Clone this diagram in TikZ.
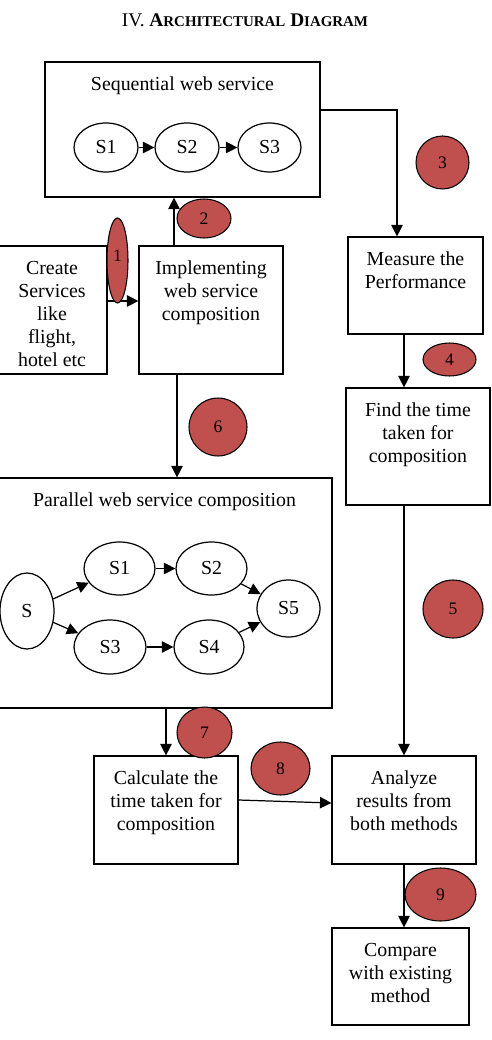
\documentclass[tikz,border=0pt]{standalone}
\usepackage{fontspec}
\setmainfont{Liberation Serif}
\usetikzlibrary{arrows.meta,positioning,shapes.geometric,calc}
\definecolor{badgered}{RGB}{192,80,77}

\begin{document}
\begin{tikzpicture}[
    x=0.02cm, y=-0.02cm,
    >={Triangle[length=6.5pt,width=6.5pt]},
    block/.style={rectangle, draw, line width=0.7pt},
    inside/.style={anchor=north, yshift=-0.19cm, align=center, font=\fontsize{11.3}{13.1}\selectfont},
    svc/.style={ellipse, draw, line width=0.7pt, inner sep=0pt, font=\fontsize{11.3}{13.1}\selectfont},
    badge/.style={ellipse, draw, line width=0.6pt, fill=badgered, inner sep=0pt, font=\fontsize{10}{12}\selectfont},
    link/.style={->, line width=0.7pt}
]
    \useasboundingbox (0,0) rectangle (491,1040);

    % Title
    \node[font=\fontsize{11}{13}\selectfont] (title) at (245,20) {IV. \textbf{A{\fontsize{8.5}{10}\selectfont RCHITECTURAL} D{\fontsize{8.5}{10}\selectfont IAGRAM}}};

    % Blocks
    \node[block, minimum width=5.5cm, minimum height=2.7cm, label={[inside]north:Sequential web service}] (seq) at (182.5,129.5) {};
    \node[block, minimum width=2.2cm, minimum height=2.56cm, label={[inside]north:{Create\\Services\\like\\flight,\\hotel etc}}] (create) at (52,310) {};
    \node[block, minimum width=2.88cm, minimum height=2.56cm, label={[inside]north:{Implementing\\web service\\composition}}] (impl) at (211,310) {};
    \node[block, minimum width=2.7cm, minimum height=1.94cm, label={[inside]north:{Measure the\\Performance}}] (measure) at (415.5,285.5) {};
    \node[block, minimum width=2.88cm, minimum height=2.34cm, label={[inside]north:{Find the time\\taken for\\composition}}] (find) at (418,446.5) {};
    \node[block, minimum width=6.7cm, minimum height=4.6cm, label={[inside]north:Parallel web service composition}] (par) at (164.5,593) {};
    \node[block, minimum width=2.88cm, minimum height=2.16cm, label={[inside]north:{Calculate the\\time taken for\\composition}}] (calc) at (166,810) {};
    \node[block, minimum width=2.88cm, minimum height=2.16cm, label={[inside]north:{Analyze\\results from\\both methods}}] (analyze) at (404,810) {};
    \node[block, minimum width=2.74cm, minimum height=1.94cm, label={[inside]north:{Compare\\with existing\\method}}] (compare) at (400.5,976.5) {};

    % Sequential services
    \node[svc, minimum width=1.28cm, minimum height=0.98cm] (q1) at (106,147.5) {S1};
    \node[svc, minimum width=1.28cm, minimum height=0.98cm] (q2) at (187,147.5) {S2};
    \node[svc, minimum width=1.26cm, minimum height=0.98cm] (q3) at (269.5,147.5) {S3};

    % Parallel services
    \node[svc, minimum width=1.08cm, minimum height=1.52cm] (p0) at (27,611) {S};
    \node[svc, minimum width=1.42cm, minimum height=1.06cm] (p1) at (119.5,568.5) {S1};
    \node[svc, minimum width=1.42cm, minimum height=1.06cm] (p2) at (211.5,568.5) {S2};
    \node[svc, minimum width=1.44cm, minimum height=1.08cm] (p3) at (110,647) {S3};
    \node[svc, minimum width=1.4cm, minimum height=1.08cm] (p4) at (209,647) {S4};
    \node[svc, minimum width=1.26cm, minimum height=1.14cm] (p5) at (288.5,608.5) {S5};

    % Arrows
    \draw[link] (q1) -- (q2);
    \draw[link] (q2) -- (q3);
    \draw[link] (p0) -- (p1);
    \draw[link] (p0) -- (p3);
    \draw[link] (p1) -- (p2);
    \draw[link] (p3) -- (p4);
    \draw[link] (p2) -- (p5);
    \draw[link] (p4) -- (p5);

    \draw[link] ([yshift=0.18cm]create.east) -- ([yshift=0.18cm]create.east -| impl.west);
    \draw[link] ([xshift=-0.74cm]impl.north) -- ([xshift=-0.74cm]impl.north |- seq.south);
    \draw[link] ([yshift=0.39cm]seq.east) -| ([xshift=-0.37cm]measure.north);
    \draw[link] ([xshift=-0.23cm]measure.south) -- ([xshift=-0.23cm]measure.south |- find.north);
    \draw[link] (analyze.north |- find.south) -- (analyze.north);
    \draw[link] ([xshift=-0.68cm]impl.south) -- ([xshift=-0.68cm]impl.south |- par.north);
    \draw[link] (calc.north |- par.south) -- (calc.north);
    \draw[link] ([yshift=0.2cm]calc.east) -- ([yshift=0.14cm]analyze.west);
    \draw[link] (analyze.south) -- (analyze.south |- compare.north);

    % Step numbers
    \node[badge, minimum width=0.42cm, minimum height=1.7cm] (n1) at (117.5,260.5) {\raisebox{0.2cm}{1}};
    \node[badge, minimum width=1.08cm, minimum height=0.78cm] (n2) at (204,218.5) {2};
    \node[badge, minimum width=1.06cm, minimum height=1.06cm] (n3) at (442.5,162.5) {3};
    \node[badge, minimum width=1.06cm, minimum height=0.66cm] (n4) at (449.5,359.5) {4};
    \node[badge, minimum width=1.2cm, minimum height=1.16cm] (n5) at (453,609) {5};
    \node[badge, minimum width=1.16cm, minimum height=1.16cm] (n6) at (218,427) {6};
    \node[badge, minimum width=1.1cm, minimum height=1.02cm] (n7) at (204.5,732.5) {7};
    \node[badge, minimum width=1.18cm, minimum height=1.06cm] (n8) at (280.5,768.5) {8};
    \node[badge, minimum width=1.42cm, minimum height=1.06cm] (n9) at (440.5,894.5) {9};

\end{tikzpicture}
\end{document}
